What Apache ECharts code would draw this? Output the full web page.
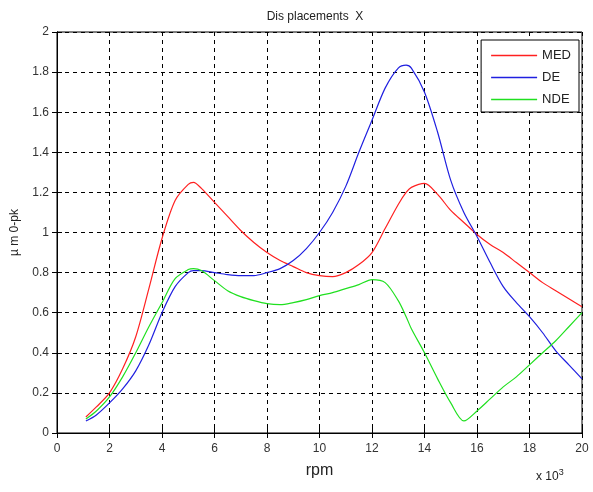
<!DOCTYPE html>
<html>
<head>
<meta charset="utf-8">
<script src="https://cdn.jsdelivr.net/npm/echarts@6/dist/echarts.min.js"></script>
<style>
  html, body { margin: 0; padding: 0; background: #fff; }
  #chart { width: 593px; height: 492px; }
</style>
</head>
<body>
<div id="chart"></div>
<script>
// rpm in thousands
const rpm = [1.1, 1.5, 2, 2.5, 3, 3.5, 4, 4.5, 5, 5.2, 5.5, 6, 6.5, 7, 7.5, 8, 8.5, 9, 9.5, 10,
  10.5, 11, 11.5, 12, 12.5, 13, 13.3, 13.5, 14, 14.5, 15, 15.5, 16, 16.5, 17, 17.5, 18, 18.5, 19, 19.5, 20];
const med = [0.08, 0.13, 0.2, 0.32, 0.48, 0.72, 0.97, 1.16, 1.24, 1.25, 1.22, 1.15, 1.08, 1.01, 0.95, 0.9, 0.86, 0.83, 0.8, 0.785,
  0.78, 0.8, 0.84, 0.9, 1.02, 1.14, 1.2, 1.225, 1.245, 1.19, 1.11, 1.05, 0.99, 0.94, 0.9, 0.85, 0.8, 0.75, 0.71, 0.67, 0.63];
const de = [0.06, 0.09, 0.15, 0.22, 0.31, 0.44, 0.6, 0.73, 0.8, 0.81, 0.81, 0.8, 0.79, 0.785, 0.785, 0.8, 0.82, 0.86, 0.92, 1.0,
  1.1, 1.23, 1.4, 1.56, 1.72, 1.82, 1.835, 1.82, 1.7, 1.5, 1.26, 1.1, 0.98, 0.85, 0.73, 0.65, 0.58, 0.5, 0.41, 0.34, 0.27];
const nde = [0.07, 0.11, 0.18, 0.28, 0.4, 0.53, 0.65, 0.77, 0.815, 0.82, 0.81, 0.76, 0.71, 0.68, 0.66, 0.645, 0.64, 0.65, 0.665, 0.685,
  0.7, 0.72, 0.74, 0.765, 0.75, 0.66, 0.58, 0.52, 0.4, 0.27, 0.15, 0.06, 0.11, 0.17, 0.23, 0.28, 0.34, 0.4, 0.46, 0.53, 0.6];

const chart = echarts.init(document.getElementById('chart'));
const pairs = ys => rpm.map((x, i) => [x, ys[i]]);
const font = 'Liberation Sans, Arial, sans-serif';
const gridLine = { show: true, lineStyle: { color: '#000', type: [4, 4], width: 1 } };
const hidden = { show: false };

const line = (name, ys, color) => ({
  name: name,
  type: 'line',
  data: pairs(ys),
  smooth: 0.3,
  showSymbol: false,
  lineStyle: { color: color, width: 1.2 },
  itemStyle: { color: color }
});

const option = {
  backgroundColor: '#fff',
  animation: false,
  title: {
    text: 'Dis placements  X',
    left: 310,
    top: 6,
    textAlign: 'center',
    textStyle: { fontFamily: font, fontSize: 12, fontWeight: 'normal', color: '#222' }
  },
  grid: { left: 57, right: 11, top: 32, bottom: 59, show: true, borderColor: '#000', borderWidth: 1 },
  legend: {
    orient: 'vertical',
    right: 14,
    top: 40,
    itemWidth: 46,
    itemHeight: 1.5,
    itemGap: 9,
    icon: 'rect',
    padding: [9, 8, 6, 10],
    backgroundColor: '#fff',
    borderColor: '#000',
    borderWidth: 1,
    borderRadius: 0,
    textStyle: { fontFamily: font, fontSize: 13, color: '#222' },
    data: ['MED', 'DE', 'NDE']
  },
  xAxis: [{
    type: 'value', min: 0, max: 20, interval: 2,
    name: 'rpm', nameLocation: 'middle', nameGap: 30,
    nameTextStyle: { fontFamily: font, fontSize: 16, color: '#222' },
    axisLine: { show: true, lineStyle: { color: '#000' } },
    axisTick: { show: true, inside: true, length: 5, lineStyle: { color: '#000' } },
    axisLabel: { fontFamily: font, fontSize: 12, color: '#333', margin: 10 },
    splitLine: gridLine
  }, {
    type: 'value', min: 0, max: 20, interval: 2, position: 'top',
    axisLine: { show: true, lineStyle: { color: '#000' } },
    axisTick: { show: true, inside: true, length: 5, lineStyle: { color: '#000' } },
    axisLabel: hidden, splitLine: hidden
  }],
  yAxis: [{
    type: 'value', min: 0, max: 2, interval: 0.2,
    name: 'µ m 0-pk', nameLocation: 'middle', nameGap: 36, nameRotate: 90,
    nameTextStyle: { fontFamily: font, fontSize: 12, color: '#222' },
    axisLine: { show: true, lineStyle: { color: '#000' } },
    axisTick: { show: true, inside: true, length: 5, lineStyle: { color: '#000' } },
    axisLabel: { fontFamily: font, fontSize: 12, color: '#333', margin: 8 },
    splitLine: gridLine
  }, {
    type: 'value', min: 0, max: 2, interval: 0.2, position: 'right',
    axisLine: { show: true, lineStyle: { color: '#000' } },
    axisTick: { show: true, inside: true, length: 5, lineStyle: { color: '#000' } },
    axisLabel: hidden, splitLine: hidden
  }],
  graphic: [{
    type: 'text',
    left: 536,
    top: 468,
    style: {
      text: 'x 10{s|3}',
      rich: { s: { fontSize: 9, verticalAlign: 'top', padding: [0, 0, 8, 0], fontFamily: font, fill: '#222' } },
      font: '12px ' + font,
      fill: '#222'
    }
  }],
  series: [
    line('MED', med, '#ff2020'),
    line('DE', de, '#2020e0'),
    line('NDE', nde, '#20e020')
  ]
};
chart.setOption(option);
</script>
</body>
</html>
